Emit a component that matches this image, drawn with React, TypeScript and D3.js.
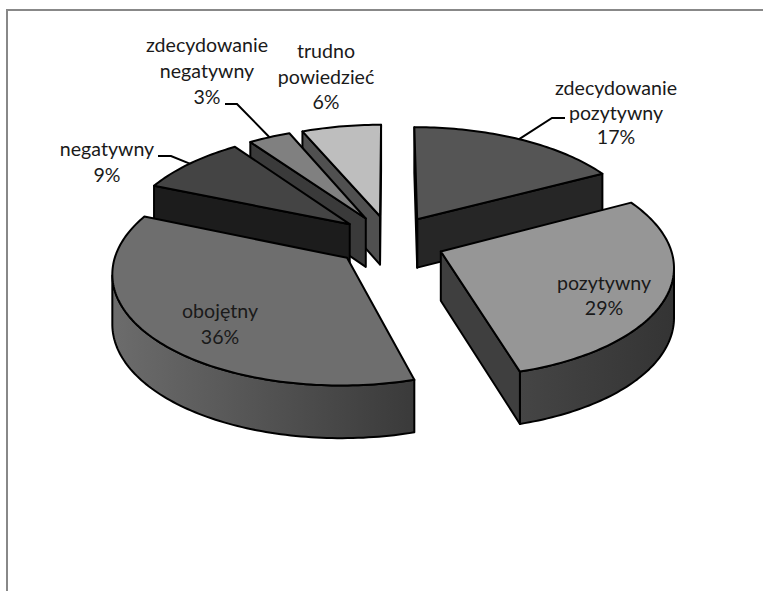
import * as d3 from "d3";

// Survey answers, in drawing order clockwise from 12 o'clock.
const categories = [
  ["zdecydowanie", "pozytywny"],
  ["pozytywny"],
  ["obojętny"],
  ["negatywny"],
  ["zdecydowanie", "negatywny"],
  ["trudno", "powiedzieć"],
];
const shares = [17, 29, 36, 9, 3, 6];

const topColours = ["#555555", "#969696", "#6e6e6e", "#444444", "#808080", "#bebebe"];
const sideColours = ["#262626", "#3f3f3f", "#3a3a3a", "#1c1c1c", "#3a3a3a", "#505050"];
const rimFrom = ["#262626", "#454545", "#3a3a3a", "#1c1c1c", "#3a3a3a", "#505050"];
const rimTo = ["#262626", "#343434", "#6c6c6c", "#1c1c1c", "#3a3a3a", "#505050"];

// Label blocks: centre x, first baseline, line height; leader is the elbow start.
const labelLayout = [
  { x: 616, y: 95, lh: 24.5, leader: [565, 118, 552, 118] },
  { x: 604, y: 290, lh: 25, leader: null },
  { x: 220, y: 318, lh: 26, leader: null },
  { x: 107, y: 156, lh: 26, leader: [158, 156, 171, 156] },
  { x: 207, y: 52, lh: 26, leader: [225, 104, 237, 104] },
  { x: 326, y: 58, lh: 25.5, leader: null },
];
// Painter's order: back slices first, front slices last.
const paintOrder = [0, 5, 4, 3, 2, 1];

// Projection of the tilted disc, with a simple perspective term.
const cx = 390;
const cy = 241;
const spreadX = 228;
const spreadY = 108;
const perspective = 0.12;
const explode = 0.24;
const thickness = 49;

// Small angular correction of the projection around the rim, in degrees.
const rimCorrection = d3
  .scaleLinear()
  .domain([0, 61.2, 165.6, 295.2, 327.6, 338.4, 360])
  .range([0, 1, -1.7, -2.5, -3, -1.5, 0]);

type P = [number, number];

const toRad = Math.PI / 180;
const viewAngle = (theta: number) => theta + rimCorrection(theta / toRad) * toRad;

function project(theta: number, r: number, mid: number): P {
  const t = viewAngle(theta);
  const X = explode * Math.sin(mid) + r * Math.sin(t);
  const Y = explode * Math.cos(mid) + r * Math.cos(t);
  const w = 1 + perspective * Y;
  return [cx + (spreadX * X) / w, cy - (spreadY * Y) / w];
}

function dropAt(theta: number, r: number, mid: number): number {
  const Y = explode * Math.cos(mid) + r * Math.cos(viewAngle(theta));
  return thickness / (1 + 0.06 * Y);
}

const lower = (theta: number, r: number, mid: number): P => {
  const p = project(theta, r, mid);
  return [p[0], p[1] + dropAt(theta, r, mid)];
};

const poly = d3.line<P>().x((d) => d[0]).y((d) => d[1]);
const closed = (pts: P[]) => poly(pts) + "Z";

const pieLayout = d3.pie<number>().sort(null).value((d) => d);
const slices = pieLayout(shares);

const arcAngles = (a: number, b: number) => {
  const n = Math.max(2, Math.ceil((b - a) / 0.02));
  return d3.range(n + 1).map((i) => a + ((b - a) * i) / n);
};

export default function App() {
  return (
    <svg
      width={763}
      height={591}
      style={{ position: "absolute", left: 0, top: 0, display: "block" }}
      fontFamily="Lato, 'Open Sans', sans-serif"
    >
      <defs>
        {slices.map((s, i) => {
          const xs = arcAngles(s.startAngle, s.endAngle).map((t) => project(t, 1, (s.startAngle + s.endAngle) / 2)[0]);
          return (
            <linearGradient
              key={i}
              id={`rim-${i}`}
              gradientUnits="userSpaceOnUse"
              x1={d3.min(xs)!}
              x2={d3.max(xs)!}
              y1={0}
              y2={0}
            >
              <stop offset="0" stopColor={i === 2 ? rimTo[i] : rimFrom[i]} />
              <stop offset="1" stopColor={i === 2 ? rimFrom[i] : rimTo[i]} />
            </linearGradient>
          );
        })}
      </defs>
      <rect width={763} height={591} fill="#ffffff" />
      <path d="M7,591V10H763" fill="none" stroke="#888888" strokeWidth={2} />

      {paintOrder.map((i) => {
        const s = slices[i];
        const a = s.startAngle;
        const b = s.endAngle;
        const mid = (a + b) / 2;
        const angles = arcAngles(a, b);
        const apex = project(0, 0, mid);
        const apexLow = lower(0, 0, mid);
        const pStart = project(a, 1, mid);
        const pEnd = project(b, 1, mid);

        // Only the part of the outer rim that turns towards the viewer.
        const rimAngles = angles.filter((t, k) => {
          const next = angles[k + 1] ?? t;
          const prev = angles[k - 1] ?? t;
          return project(next, 1, mid)[0] < project(prev, 1, mid)[0];
        });
        const rim =
          rimAngles.length > 1
            ? closed([
                ...rimAngles.map((t) => project(t, 1, mid)),
                ...rimAngles.slice().reverse().map((t) => lower(t, 1, mid)),
              ])
            : null;
        const endWall =
          pEnd[0] > apex[0] ? closed([apex, pEnd, lower(b, 1, mid), apexLow]) : null;
        const startWall =
          pStart[0] < apex[0] ? closed([apex, pStart, lower(a, 1, mid), apexLow]) : null;
        const top = closed([apex, ...angles.map((t) => project(t, 1, mid))]);
        const edge = { stroke: "#000000", strokeWidth: 2, strokeLinejoin: "round" as const };
        return (
          <g key={i}>
            {rim && <path d={rim} fill={`url(#rim-${i})`} {...edge} />}
            {endWall && <path d={endWall} fill={sideColours[i]} {...edge} />}
            {startWall && <path d={startWall} fill={sideColours[i]} {...edge} />}
            <path d={top} fill={topColours[i]} {...edge} />
          </g>
        );
      })}

      {slices.map((s, i) => {
        const lay = labelLayout[i];
        if (!lay.leader) return null;
        const mid = (s.startAngle + s.endAngle) / 2;
        const end = project(mid, 1, mid);
        const [x0, y0, x1, y1] = lay.leader;
        return (
          <polyline
            key={i}
            points={`${x0},${y0} ${x1},${y1} ${end[0]},${end[1]}`}
            fill="none"
            stroke="#000000"
            strokeWidth={2}
          />
        );
      })}

      {categories.map((lines, i) => {
        const lay = labelLayout[i];
        const rows = [...lines, `${shares[i]}%`];
        return (
          <text key={i} textAnchor="middle" fontSize={19.6} fill="#1a1a1a">
            {rows.map((row, k) => (
              <tspan key={k} x={lay.x} y={lay.y + k * lay.lh}>
                {row}
              </tspan>
            ))}
          </text>
        );
      })}
    </svg>
  );
}
